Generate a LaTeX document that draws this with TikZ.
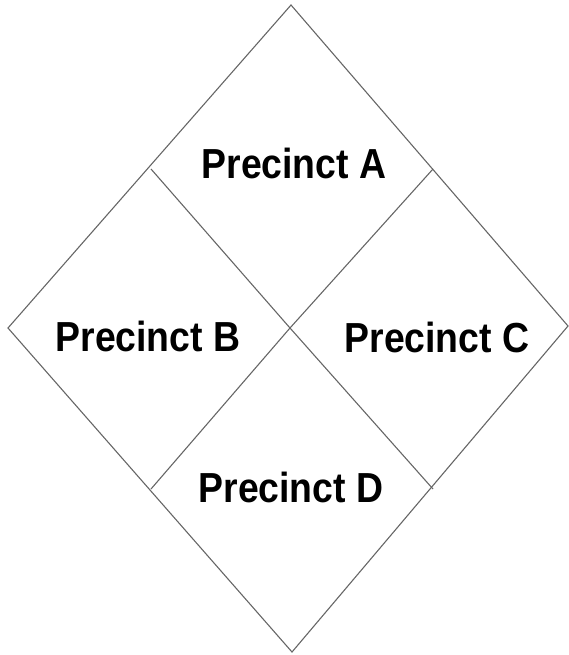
\documentclass[tikz,border=0pt]{standalone}
\usepackage{fontspec}
\setmainfont{Liberation Sans}
\newcommand{\precinct}[1]{\scalebox{0.89}[1]{\bfseries Precinct #1}}
\begin{document}
\begin{tikzpicture}[x=1pt, y=-1pt,
        edge/.style = {draw=black!60, line width=1.1pt},
        label/.style = {inner sep=0pt, font=\fontsize{42}{42}\selectfont}]
    \useasboundingbox (0, 0) rectangle (569, 655);

    \coordinate (top)    at (291, 5);
    \coordinate (left)   at (8, 328);
    \coordinate (right)  at (568, 326);
    \coordinate (bottom) at (292, 652);
    \coordinate (mid)    at (290, 328);

    \coordinate (tl) at (151, 169);
    \coordinate (tr) at (433, 169);
    \coordinate (bl) at (151, 489);
    \coordinate (br) at (433, 489);

    % outer diamond
    \draw[edge] (top) -- (right) -- (bottom) -- (left) -- cycle;

    % inner split
    \draw[edge] (tl) -- (mid) -- (br);
    \draw[edge] (tr) -- (mid) -- (bl);

    \draw
        (294, 163) node (pa) [label] {\precinct{A}}
        (148, 336) node (pb) [label] {\precinct{B}}
        (437, 337) node (pc) [label] {\precinct{C}}
        (291, 487) node (pd) [label] {\precinct{D}}
    ;
\end{tikzpicture}
\end{document}
